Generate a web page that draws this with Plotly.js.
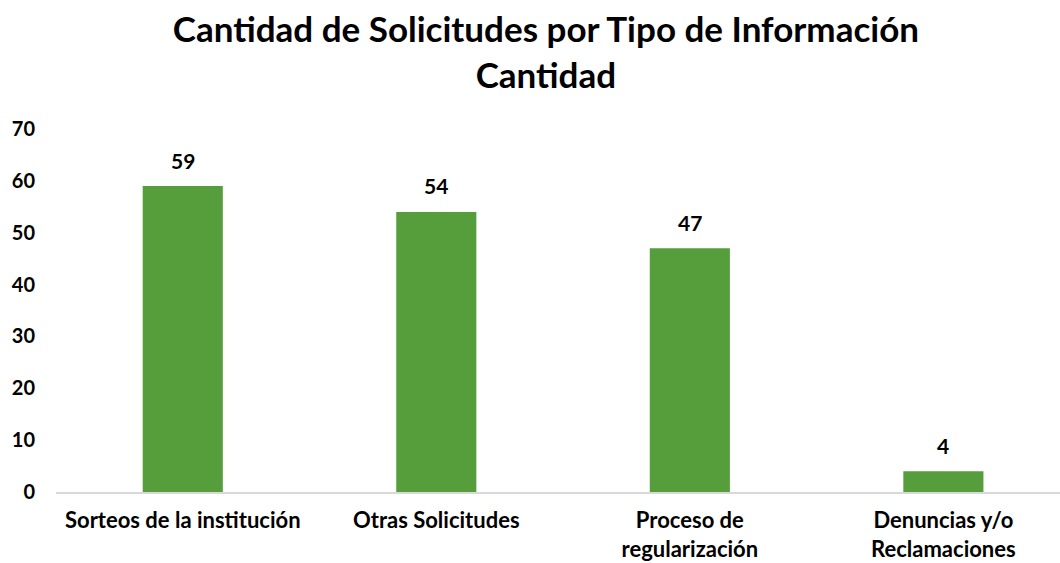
<!DOCTYPE html>
<html>
<head>
<meta charset="utf-8">
<script src="https://cdn.plot.ly/plotly-3.0.1.min.js"></script>
<style>html,body{margin:0;padding:0;background:#fff;}#chart{width:1060px;height:563px;}</style>
</head>
<body>
<div id="chart"></div>
<script>
const categories = ["Sorteos de la institución", "Otras Solicitudes", "Proceso de<br>regularización", "Denuncias y/o<br>Reclamaciones"];
const values = [59, 54, 47, 4];
const yTicks = [0, 10, 20, 30, 40, 50, 60, 70];

const FONT = "Lato, 'Open Sans', sans-serif";
const barColor = "#559E3B";

const trace = {
  type: "bar",
  x: categories,
  y: values,
  marker: { color: barColor, line: { width: 0 } },
  hoverinfo: "none"
};

const annotations = categories.map((c, i) => ({
  x: c, y: values[i], xref: "x", yref: "y",
  text: String(values[i]),
  showarrow: false,
  yanchor: "middle",
  yshift: 26,
  font: { family: FONT, size: 21, color: "#000", weight: 700 }
}));

const layout = {
  width: 1060, height: 563,
  paper_bgcolor: "#fff", plot_bgcolor: "#fff",
  margin: { l: 56, r: 0, t: 129, b: 71 },
  bargap: 0.684,
  showlegend: false,
  title: {
    text: "<b>Cantidad de Solicitudes por Tipo de Información<br>Cantidad</b>",
    font: { family: FONT, size: 35, color: "#000" },
    x: 0.515, xanchor: "center",
    y: 0.925, yanchor: "middle", yref: "container"
  },
  xaxis: {
    type: "category",
    range: [-0.5, 3.46],
    showgrid: false,
    showline: true, linecolor: "#D9D9D9", linewidth: 2,
    ticks: "",
    ticklabelstandoff: 8,
    tickfont: { family: FONT, size: 22, color: "#000", weight: 700 },
    fixedrange: true
  },
  yaxis: {
    range: [0, 70],
    tickvals: yTicks,
    showgrid: false, zeroline: false, showline: false,
    ticks: "",
    ticklabelstandoff: 20,
    tickfont: { family: FONT, size: 20, color: "#000", weight: 700 },
    fixedrange: true
  },
  annotations: annotations
};

Plotly.newPlot("chart", [trace], layout, { displayModeBar: false, staticPlot: true });
</script>
</body>
</html>
